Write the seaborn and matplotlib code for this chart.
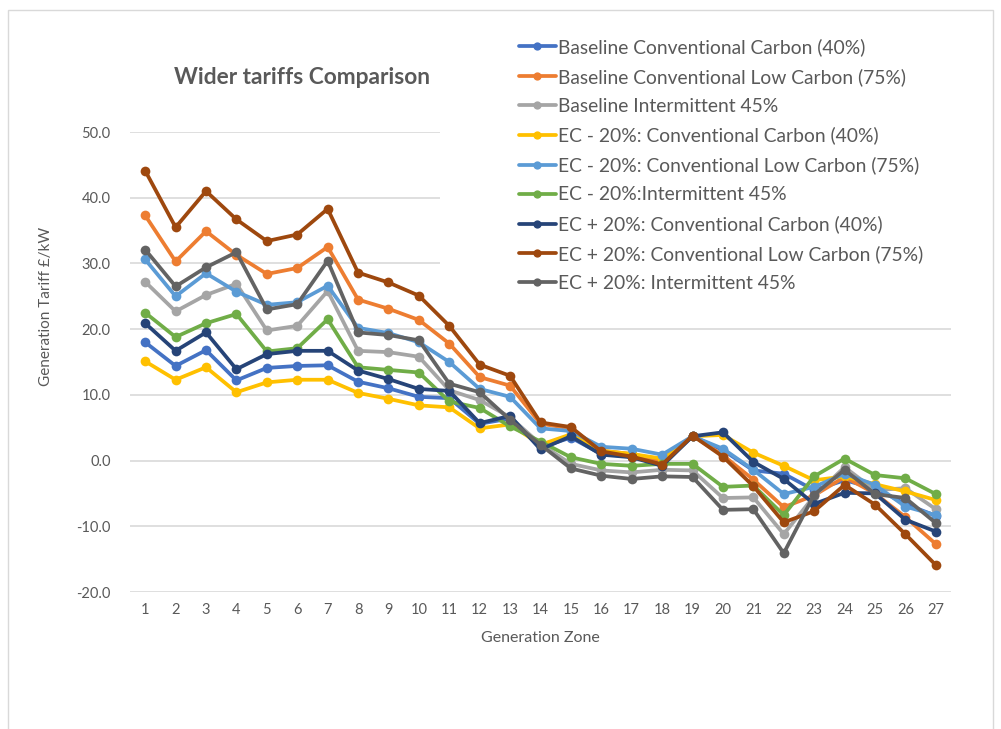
import matplotlib
matplotlib.use("Agg")
import matplotlib.pyplot as plt
import seaborn as sns
import pandas as pd
from matplotlib.patches import Rectangle

zones = list(range(1, 28))

baseline_cc = [18.0, 14.4, 16.8, 12.2, 14.1, 14.4, 14.5, 12.0, 11.0, 9.7, 9.5, 5.6, 6.4, 2.0, 3.5,
               1.0, 0.6, -0.5, 3.7, 1.6, -1.5, -2.0, -4.5, -3.0, -4.2, -6.6, -8.4]
baseline_clc = [37.3, 30.3, 34.9, 31.3, 28.4, 29.3, 32.5, 24.5, 23.1, 21.4, 17.8, 12.7, 11.4, 5.6, 4.9,
                1.5, 1.0, 0.0, 3.8, 0.8, -2.9, -7.1, -5.3, -2.5, -5.0, -8.6, -12.7]
baseline_int = [27.2, 22.7, 25.2, 26.9, 19.8, 20.5, 25.8, 16.7, 16.5, 15.8, 10.7, 9.2, 6.6, 2.5, -0.5,
                -1.5, -1.8, -1.4, -1.5, -5.7, -5.6, -11.2, -5.4, -1.0, -4.5, -4.2, -7.4]
ec_m20_cc = [15.1, 12.3, 14.2, 10.4, 11.9, 12.3, 12.3, 10.3, 9.4, 8.4, 8.1, 4.9, 5.5, 2.4, 4.0,
             1.5, 1.0, 0.3, 3.7, 3.9, 1.2, -0.8, -3.0, -2.4, -3.6, -4.7, -6.0]
ec_m20_clc = [30.6, 25.0, 28.5, 25.7, 23.7, 24.1, 26.6, 20.2, 19.4, 18.0, 15.0, 10.9, 9.7, 4.9, 4.5,
              2.1, 1.8, 0.9, 3.7, 1.8, -1.4, -5.1, -4.0, -2.0, -3.7, -7.0, -8.3]
ec_m20_int = [22.5, 18.8, 20.9, 22.3, 16.6, 17.1, 21.5, 14.2, 13.8, 13.4, 9.0, 8.0, 5.2, 2.9, 0.5,
              -0.5, -0.8, -0.5, -0.5, -4.0, -3.8, -8.3, -2.4, 0.3, -2.2, -2.7, -5.1]
ec_p20_cc = [20.9, 16.7, 19.5, 13.9, 16.2, 16.7, 16.7, 13.7, 12.4, 10.9, 10.6, 5.7, 6.8, 1.7, 3.7,
             0.9, 0.5, -0.8, 3.7, 4.3, -0.2, -2.8, -6.6, -4.9, -5.0, -9.0, -10.8]
ec_p20_clc = [44.1, 35.5, 41.0, 36.7, 33.4, 34.4, 38.3, 28.6, 27.1, 25.1, 20.5, 14.6, 12.9, 5.8, 5.1,
              1.4, 0.6, -0.6, 3.8, 0.6, -3.9, -9.4, -7.7, -3.7, -6.7, -11.2, -15.9]
ec_p20_int = [32.1, 26.5, 29.4, 31.7, 23.0, 23.8, 30.4, 19.5, 19.1, 18.3, 11.7, 10.4, 6.2, 2.4, -1.2,
              -2.3, -2.8, -2.4, -2.5, -7.5, -7.4, -14.1, -5.2, -1.4, -5.1, -5.7, -9.5]

series_names = [
    "Baseline Conventional Carbon (40%)",
    "Baseline Conventional Low Carbon (75%)",
    "Baseline Intermittent 45%",
    "EC - 20%: Conventional Carbon (40%)",
    "EC - 20%: Conventional Low Carbon (75%)",
    "EC - 20%:Intermittent 45%",
    "EC + 20%: Conventional Carbon (40%)",
    "EC + 20%: Conventional Low Carbon (75%)",
    "EC + 20%: Intermittent 45%",
]
series_values = [baseline_cc, baseline_clc, baseline_int, ec_m20_cc, ec_m20_clc,
                 ec_m20_int, ec_p20_cc, ec_p20_clc, ec_p20_int]
colors = ["#4472C4", "#ED7D31", "#A5A5A5", "#FFC000", "#5B9BD5",
          "#70AD47", "#264478", "#9E480E", "#636363"]

y_ticks = [-20, -10, 0, 10, 20, 30, 40, 50]
y_tick_labels = ["-20.0", "-10.0", "0.0", "10.0", "20.0", "30.0", "40.0", "50.0"]

title = "Wider tariffs Comparison"
x_label = "Generation Zone"
y_label = "Generation Tariff £/kW"

rows = []
for name, vals in zip(series_names, series_values):
    for z, v in zip(zones, vals):
        rows.append({"zone": z, "value": v, "series": name})
df = pd.DataFrame(rows)

sns.set_theme(style="white")
plt.rcParams["font.family"] = ["Lato", "DejaVu Sans"]

W, H = 1001, 729
fig = plt.figure(figsize=(W / 100, H / 100), dpi=100)
ax = fig.add_axes([130 / W, 1 - 592 / H, 821 / W, 460 / H])

text_color = "#595959"
grid_color = "#D9D9D9"

sns.lineplot(data=df, x="zone", y="value", hue="series", hue_order=series_names,
             palette=colors, marker="o", markersize=7, markeredgewidth=0,
             linewidth=2.7, sort=False, ax=ax, zorder=3)

ax.set_xlim(0.5, 27.5)
ax.set_ylim(-20, 50)
ax.set_yticks(y_ticks)
ax.set_yticklabels(y_tick_labels)
ax.set_xticks(zones)
ax.set_xticklabels([str(z) for z in zones])
ax.tick_params(axis="both", length=0, labelsize=10.5, labelcolor=text_color)
ax.tick_params(axis="y", pad=14)
ax.tick_params(axis="x", pad=8)
for s in ax.spines.values():
    s.set_visible(False)
ax.set_axisbelow(True)
ax.yaxis.grid(True, color=grid_color, linewidth=1.2)
ax.xaxis.grid(False)
ax.set_xlabel("")
ax.set_ylabel("")

# white area behind legend (hides gridlines there)
ax.add_patch(Rectangle((440 / W, 1 - 300 / H), (952 - 440) / W, 270 / H,
                       transform=fig.transFigure, facecolor="white",
                       edgecolor="none", zorder=1))

handles, labels = ax.get_legend_handles_labels()
leg = ax.legend(handles, labels, loc="upper left",
                bbox_to_anchor=(519 / W, 1 - 38 / H), bbox_transform=fig.transFigure,
                frameon=False, fontsize=13.9, labelcolor=text_color,
                handlelength=1.9, handletextpad=0.1, labelspacing=0.62,
                markerscale=0.85, borderpad=0, borderaxespad=0)

fig.text(302 / W, 1 - 78 / H, title, ha="center", va="center",
         fontsize=16.4, fontweight="bold", color=text_color)
fig.text(540 / W, 1 - 638 / H, x_label, ha="center", va="center",
         fontsize=11.5, color=text_color)
fig.text(46 / W, 1 - 306 / H, y_label, ha="center", va="center",
         rotation=90, fontsize=11, color=text_color)

fig.add_artist(Rectangle((8 / W, -0.01), (993 - 8) / W, 1 - 10 / H + 0.01,
                         transform=fig.transFigure, facecolor="none",
                         edgecolor="#D9D9D9", linewidth=1))

fig.savefig("out.png", dpi=100, facecolor="white")
